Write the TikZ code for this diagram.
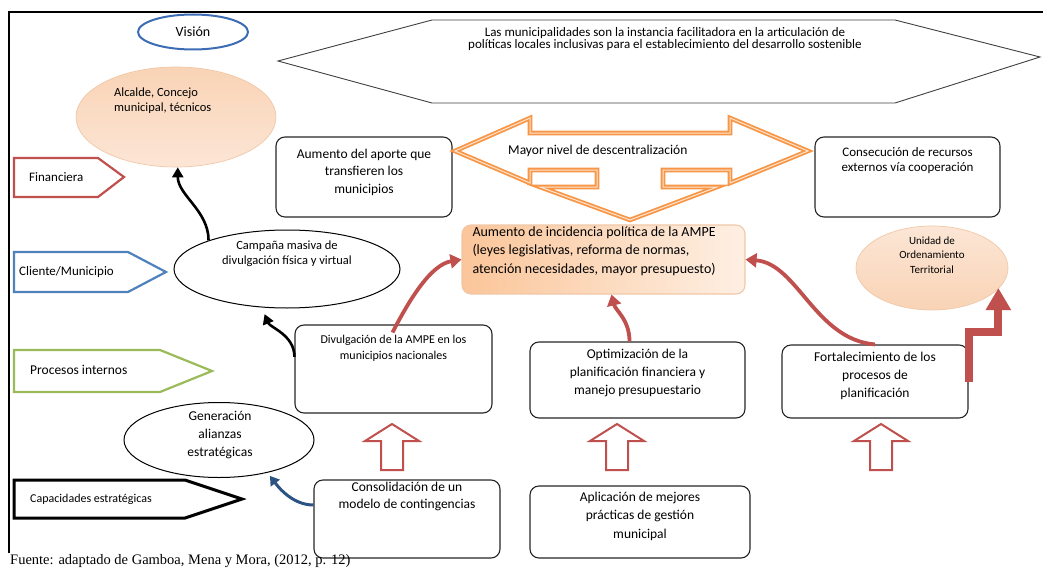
\documentclass[tikz,border=0pt]{standalone}
\usepackage{fontspec}
\setmainfont{Carlito}
\newfontfamily\sourcefont{Liberation Serif}
\usepackage{tikz}
\usetikzlibrary{arrows.meta,shapes.geometric,positioning,calc}
\usepackage{xcolor}

\definecolor{finred}{HTML}{C0504D}
\definecolor{cliblue}{HTML}{4F81BD}
\definecolor{progreen}{HTML}{9BBB59}
\definecolor{visblue}{HTML}{3C6DB4}
\definecolor{arrowred}{HTML}{C0504D}
\definecolor{arrowblue}{HTML}{2B5384}
\definecolor{arroworange}{HTML}{F79646}
\definecolor{hexgray}{HTML}{404040}
\definecolor{boxline}{HTML}{262626}
\definecolor{peachtop}{HTML}{F9D3B5}
\definecolor{peachbot}{HTML}{FCE6D6}
\definecolor{peachline}{HTML}{F0C8A8}

% text block glued to the top of a box
\newcommand{\boxlines}[3]{\parbox[c][#2][t]{#1}{\centering #3}}

\begin{document}
\begin{tikzpicture}[x=1pt, y=-1pt,
    box/.style={draw=boxline, line width=1.1pt, rounded corners=9pt, fill=white,
        inner sep=0pt, font=\fontsize{13.5}{17.5}\selectfont},
    oval/.style={ellipse, draw=black, line width=1pt, fill=white, inner sep=0pt},
    peach/.style={ellipse, draw=peachline, line width=0.7pt, top color=peachtop,
        bottom color=peachbot, inner sep=0pt},
    ovaltext/.style={align=center, inner sep=0pt, font=\fontsize{12.5}{15}\selectfont},
    tag/.style={line width=2.2pt, line join=miter, fill=white},
    tagtext/.style={anchor=west, inner sep=0pt, font=\fontsize{13}{15}\selectfont},
    blockarrow/.style={draw=arroworange, double=arroworange!25, line width=1.8pt,
        double distance=1pt, line join=miter, fill=white},
    hollowup/.style={draw=arrowred, line width=2pt, line join=miter, fill=white},
    blackcurve/.style={line width=2.6pt, -{Triangle[width=11pt,length=10pt]}},
    redcurve/.style={draw=arrowred, line width=3.8pt, -{Triangle[width=14pt,length=11pt]}},
    bluecurve/.style={draw=arrowblue, line width=3pt, -{Triangle[width=11pt,length=9pt]}},
    steparrow/.style={draw=arrowred, line width=8pt, line join=miter,
        -{Triangle[width=24pt,length=22pt]}}]
    \useasboundingbox (0,0) rectangle (1043,567);

    % frame
    \draw[line width=1.6pt] (9,553) -- (9,12) -- (1043,12);

    % mission
    \draw[line width=0.9pt, draw=hexgray, fill=white]
        (278,61) -- (432,20) -- (895,20) -- (1040,57) -- (895,103) -- (432,103) -- cycle;
    \node[align=center, inner sep=0pt, font=\fontsize{13}{12.5}\selectfont] (mision) at (665,39)
        {Las municipalidades son la instancia facilitadora en la articulación de\\
         políticas locales inclusivas para el establecimiento del desarrollo sostenible};

    % vision
    \node[ellipse, draw=visblue, line width=2pt, minimum width=110pt, minimum height=35pt,
        inner sep=0pt, font=\fontsize{14}{16}\selectfont] (vision) at (193,32) {Visión};

    % perspectives
    \draw[tag, draw=finred] (14,158) -- (98,158) -- (124,177) -- (98,197) -- (14,197) -- cycle;
    \node[tagtext] (financiera) at (29,177) {Financiera};
    \draw[tag, draw=cliblue] (14,252) -- (128,252) -- (166,272) -- (128,292) -- (14,292) -- cycle;
    \node[tagtext] (cliente) at (19,272) {Cliente/Municipio};
    \draw[tag, draw=progreen] (14,350) -- (160,350) -- (212,371) -- (160,392) -- (14,392) -- cycle;
    \node[tagtext, font=\fontsize{13.5}{15}\selectfont] (procesos) at (30,370) {Procesos internos};
    \draw[tag, line width=3pt] (14,480) -- (185,480) -- (242,499) -- (185,518) -- (14,518) -- cycle;
    \node[tagtext, font=\fontsize{12}{14}\selectfont] (capacidades) at (30,499) {Capacidades estratégicas};

    % ellipses
    \node[peach, minimum width=200pt, minimum height=100pt] (alcalde) at (176,117) {};
    \node[ovaltext, align=left, anchor=north west] (alcaldetxt) at (114,88)
        {Alcalde, Concejo\\ municipal, técnicos};
    \node[oval, minimum width=226pt, minimum height=78pt] (campana) at (287,269) {};
    \node[ovaltext] (campanatxt) at (287,254) {Campaña masiva de\\ divulgación física y virtual};
    \node[oval, minimum width=190pt, minimum height=75pt] (alianzas) at (219,440) {};
    \node[ovaltext, font=\fontsize{13.5}{18.3}\selectfont] (alianzastxt) at (220,435)
        {Generación\\ alianzas\\ estratégicas};
    \node[peach, top color=peachbot, bottom color=peachtop, minimum width=152pt,
        minimum height=84pt] (unidad) at (932,268) {};
    \node[ovaltext, font=\fontsize{11}{14.5}\selectfont] (unidadtxt) at (932,255)
        {Unidad de\\ Ordenamiento\\ Territorial};

    % boxes
    \node[box, minimum width=176pt, minimum height=80pt] (aporte) at (364,177)
        {\boxlines{168pt}{56.6pt}{Aumento del aporte que\\ transfieren los\\ municipios}};
    \node[box, minimum width=185pt, minimum height=80pt, font=\fontsize{13}{15.5}\selectfont]
        (recursos) at (907.5,177)
        {\boxlines{177pt}{60pt}{Consecución de recursos\\ externos vía cooperación}};
    \node[box, draw=peachline, left color=arroworange!55, right color=arroworange!15,
        minimum width=283pt, minimum height=69pt, font=\fontsize{14}{18.5}\selectfont]
        (ampe) at (603.5,259.5)
        {\parbox[c][66pt][t]{262pt}{\raggedright Aumento de incidencia política de la AMPE\\
         (leyes legislativas, reforma de normas,\\ atención necesidades, mayor presupuesto)}};
    \node[box, minimum width=197pt, minimum height=88pt, font=\fontsize{12}{16}\selectfont]
        (divulga) at (393.5,369)
        {\boxlines{189pt}{67pt}{Divulgación de la AMPE en los\\ municipios nacionales}};
    \node[box, minimum width=215pt, minimum height=76pt, font=\fontsize{13.5}{18}\selectfont]
        (optim) at (637.5,380)
        {\boxlines{207pt}{62.6pt}{Optimización de la\\ planificación financiera y\\ manejo presupuestario}};
    \node[box, minimum width=186pt, minimum height=73pt, font=\fontsize{13.5}{18}\selectfont]
        (fortal) at (875,381.5)
        {\boxlines{178pt}{59.6pt}{Fortalecimiento de los\\ procesos de\\ planificación}};
    \node[box, minimum width=186pt, minimum height=78pt, font=\fontsize{13.5}{17}\selectfont]
        (consol) at (407,519)
        {\boxlines{178pt}{74.6pt}{Consolidación de un\\ modelo de contingencias}};
    \node[box, minimum width=220pt, minimum height=72pt, font=\fontsize{13.5}{18.5}\selectfont]
        (aplica) at (640,522)
        {\boxlines{212pt}{60.6pt}{Aplicación de mejores\\ prácticas de gestión\\ municipal}};

    % decentralisation arrow
    \draw[blockarrow] (455,151) -- (530,118) -- (530,133) -- (730,133) -- (730,118) -- (808,151)
        -- (730,183) -- (730,170) -- (663,170) -- (663,187) -- (717,187) -- (630,220)
        -- (540,187) -- (597,187) -- (597,170) -- (530,170) -- (530,183) -- cycle;
    \node[anchor=base west, inner sep=0pt, font=\fontsize{13.5}{15}\selectfont] (descentral)
        at (508,154) {Mayor nivel de descentralización};

    % hollow up arrows
    \foreach \ax in {392,617,881} {
        \draw[hollowup] (\ax-11,470) -- (\ax-11,441) -- (\ax-27,441) -- (\ax,424)
            -- (\ax+27,441) -- (\ax+11,441) -- (\ax+11,470) -- cycle;
    }

    % connectors
    \draw[blackcurve] (campana.160) .. controls +(0,-30) and +(0,28) .. (alcalde.-88);
    \draw[blackcurve, shorten >=7pt] (divulga.173) .. controls +(0,-22) and +(8,20) .. (campana.-123);
    \draw[redcurve] ($(divulga.north)+(-1,8)$) .. controls +(18,-35) and +(-30,5) .. (ampe.west);
    \draw[redcurve] ($(optim.north)+(-8,0)$) .. controls +(0,-22) and +(4,16) .. ($(ampe.south)+(8,0)$);
    \draw[redcurve] (fortal.north) .. controls +(-60,-5) and +(52,4) .. (ampe.east);
    \draw[bluecurve, shorten >=4pt] ($(consol.west)+(0,-14)$) .. controls +(-20,0) and +(12,16) .. (alianzas.-34);
    \coordinate (uotip) at ($(unidad.east)+(-10,20)$);
    \draw[steparrow] (fortal.east) -- ++(0,-50) -| (uotip);

    % source
    \node[anchor=base west, inner sep=0pt, font=\sourcefont\fontsize{14.5}{16}\selectfont] (fuente)
        at (10,564.5) {Fuente: adaptado de Gamboa, Mena y Mora, (2012, p. 12)};
\end{tikzpicture}
\end{document}
